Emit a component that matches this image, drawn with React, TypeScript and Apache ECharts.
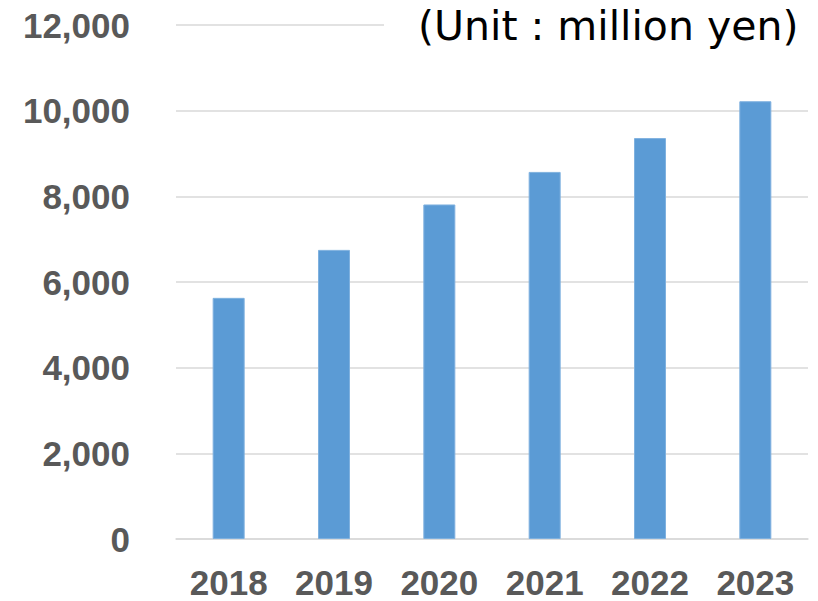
import React, { useEffect, useRef } from "react";
import * as echarts from "echarts";

const years = ["2018", "2019", "2020", "2021", "2022", "2023"];
const sales = [5630, 6750, 7810, 8570, 9360, 10220];
const yMin = 0;
const yMax = 12000;
const yInterval = 2000;
const unitLabel = "(Unit : million yen)";

export default function App() {
  const ref = useRef<HTMLDivElement>(null);
  useEffect(() => {
    if (!ref.current) return;
    const chart = echarts.init(ref.current, null, { renderer: "svg" });
    chart.setOption({
      animation: false,
      backgroundColor: "#ffffff",
      grid: { left: 176, right: 10, top: 25, bottom: 62, containLabel: false },
      xAxis: {
        type: "category",
        data: years,
        axisLine: { show: true, lineStyle: { color: "#d9d9d9", width: 1.5 } },
        axisTick: { show: false },
        axisLabel: {
          color: "#595959",
          fontFamily: "Liberation Sans",
          fontWeight: "bold",
          fontSize: 35,
          lineHeight: 30,
          margin: 28,
        },
      },
      yAxis: {
        type: "value",
        min: yMin,
        max: yMax,
        interval: yInterval,
        axisLine: { show: false },
        axisTick: { show: false },
        splitLine: { lineStyle: { color: "#d9d9d9", width: 1.5 } },
        axisLabel: {
          color: "#595959",
          fontFamily: "Liberation Sans",
          fontWeight: "bold",
          fontSize: 35,
          margin: 46,
          formatter: (v: number) => v.toLocaleString("en-US"),
        },
      },
      series: [
        {
          type: "bar",
          data: sales,
          barWidth: 32,
          itemStyle: { color: "#5b9bd5", borderColor: "#7fb1df", borderWidth: 1 },
        },
      ],
      graphic: [
        {
          type: "rect",
          left: 384,
          top: 0,
          shape: { width: 434, height: 56 },
          style: { fill: "#ffffff" },
          z: 100,
        },
        {
          type: "text",
          left: 418,
          top: 5,
          z: 101,
          style: {
            text: unitLabel,
            fill: "#000000",
            font: "41px 'DejaVu Sans'",
          },
        },
      ],
    });
    return () => chart.dispose();
  }, []);
  return <div ref={ref} style={{ width: 818, height: 601, position: "absolute", left: 0, top: 0 }} />;
}
